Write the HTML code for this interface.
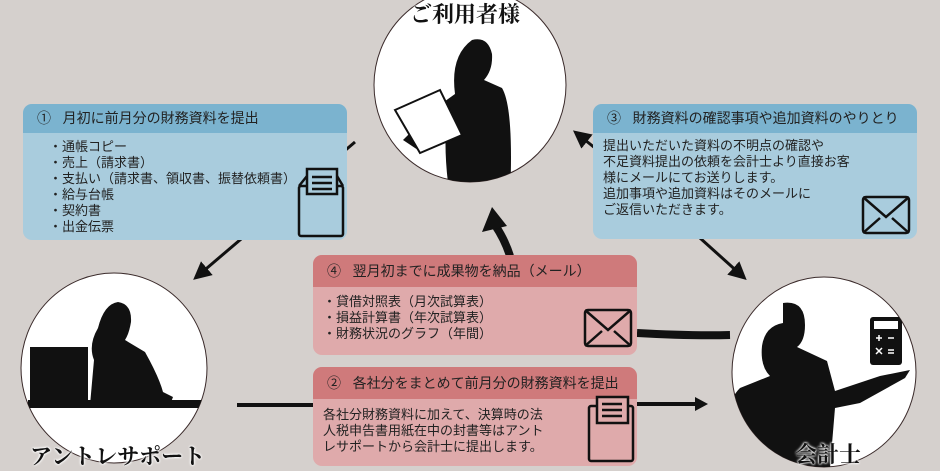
<!DOCTYPE html>
<html><head><meta charset="utf-8"><style>
body{margin:0;width:940px;height:470px;overflow:hidden;background:#d5d0cd;font-family:"Liberation Sans","Noto Sans CJK JP",sans-serif;position:relative}
.box{position:absolute;border-radius:9px;overflow:hidden;color:#222}
.hd{height:29px;line-height:29px;font-size:14px;padding-left:14px;white-space:nowrap}
.bd{font-size:13px;line-height:16px;white-space:nowrap}
.blue .hd{background:#7bb3cf}.blue{background:#a9ccdd}
.red .hd{background:#cf7a7b}.red{background:#dfaaab}
.lbl{position:absolute;font-family:"Noto Serif CJK SC","Liberation Serif",serif;font-weight:bold;font-size:22px;color:#111;text-shadow:0 0 2px #fff,0 0 2px #fff,0 0 3px #fff;white-space:nowrap}
svg{position:absolute;left:0;top:0}
</style></head><body>
<svg width="940" height="470">
<defs><marker id="a" markerWidth="6" markerHeight="6" refX="3" refY="3" orient="auto"><path d="M0,0L6,3L0,6z" fill="#111"/></marker>
<clipPath id="cl"><ellipse cx="114" cy="368" rx="93" ry="95"/></clipPath>
<clipPath id="cr"><ellipse cx="824" cy="372" rx="92" ry="95"/></clipPath>
<clipPath id="ct"><ellipse cx="470" cy="85" rx="96" ry="97"/></clipPath></defs>
<ellipse cx="470" cy="85" rx="96" ry="97" fill="#fff" stroke="#3a2a2a"/>
<ellipse cx="114" cy="368" rx="93" ry="95" fill="#fff" stroke="#3a2a2a"/>
<ellipse cx="824" cy="372" rx="92" ry="95" fill="#fff" stroke="#3a2a2a"/>
<!-- top silhouette -->
<g clip-path="url(#ct)">
<path d="M472,40 q16,-4 20,14 q1,16 -8,26 l18,8 q12,20 8,110 l-60,0 q-6,-40 -4,-70 l-28,22 l-15,-10 q20,-20 38,-36 l14,-10 q-5,-38 17,-54z" fill="#111"/>
<path d="M395,110 l45,-20 l22,45 l-42,18z" fill="#fff" stroke="#111" stroke-width="2"/>
</g>
<!-- left silhouette -->
<g clip-path="url(#cl)" fill="#111">
<path d="M118,302 q14,2 13,20 q-2,12 -6,18 l20,12 q14,25 18,40 l10,5 l-3,8 l-80,0 l4,-45 q-6,-15 4,-32 q6,-24 20,-26z"/>
<rect x="30" y="347" width="58" height="55"/>
<rect x="28" y="400" width="175" height="8"/>
</g>
<!-- right silhouette -->
<g clip-path="url(#cr)" fill="#111">
<path d="M783,303 q22,-3 22,22 q0,16 -8,22 l30,14 l8,30 l45,-15 l30,-6 l-5,8 l-45,25 l-25,5 l-5,60 l-110,0 q0,-60 20,-80 l30,-12 q-10,-10 -8,-30 q3,-20 21,-23z"/>
<rect x="870" y="317" width="32" height="48" rx="3"/>
<rect x="874" y="321" width="24" height="8" fill="#fff"/>
<path d="M876,338h6M879,335v6M888,338h6M888,350h6M888,353h6M876,348l6,6M882,348l-6,6" stroke="#fff" stroke-width="1.5"/>
</g>
<!-- connectors -->
<line x1="355" y1="142" x2="200" y2="274" stroke="#111" stroke-width="3" marker-end="url(#a)"/>
<line x1="700" y1="238" x2="740" y2="274" stroke="#111" stroke-width="3" marker-end="url(#a)"/>
<line x1="600" y1="152" x2="580" y2="136" stroke="#111" stroke-width="3" marker-end="url(#a)"/>
<path d="M510,256 Q505,240 495,225" stroke="#111" stroke-width="8" fill="none"/>
<path d="M482,232 L492,207 L507,226z" fill="#111"/>
<path d="M637,333 Q690,336 730,335" stroke="#111" stroke-width="8" fill="none"/>
<line x1="237" y1="405" x2="313" y2="405" stroke="#111" stroke-width="4"/>
<line x1="637" y1="404" x2="697" y2="404" stroke="#111" stroke-width="4"/>
<path d="M695,397 L708,404 L695,411z" fill="#111"/>
</svg>
<div class="lbl" style="left:410px;top:-2px">ご利用者様</div>
<div class="lbl" style="left:30px;top:440px">アントレサポート</div>
<div class="lbl" style="left:795px;top:438px">会計士</div>

<div class="box blue" style="left:23px;top:104px;width:324px;height:136px">
<div class="hd">①&nbsp;&nbsp;&nbsp;月初に前月分の財務資料を提出</div>
<div class="bd" style="padding:6px 0 0 26px">・通帳コピー<br>・売上（請求書）<br>・支払い（請求書、領収書、振替依頼書）<br>・給与台帳<br>・契約書<br>・出金伝票</div>
</div>
<div class="box blue" style="left:593px;top:104px;width:324px;height:135px">
<div class="hd">③&nbsp;&nbsp;&nbsp;財務資料の確認事項や追加資料のやりとり</div>
<div class="bd" style="padding:5px 0 0 10px">提出いただいた資料の不明点の確認や<br>不足資料提出の依頼を会計士より直接お客<br>様にメールにてお送りします。<br>追加事項や追加資料はそのメールに<br>ご返信いただきます。</div>
</div>
<div class="box red" style="left:313px;top:255px;width:324px;height:100px">
<div class="hd" style="height:32px;line-height:32px">④&nbsp;&nbsp;&nbsp;翌月初までに成果物を納品（メール）</div>
<div class="bd" style="padding:7px 0 0 10px">・貸借対照表（月次試算表）<br>・損益計算書（年次試算表）<br>・財務状況のグラフ（年間）</div>
</div>
<div class="box red" style="left:313px;top:367px;width:324px;height:99px">
<div class="hd" style="height:32px;line-height:32px">②&nbsp;&nbsp;&nbsp;各社分をまとめて前月分の財務資料を提出</div>
<div class="bd" style="padding:8px 0 0 10px">各社分財務資料に加えて、決算時の法<br>人税申告書用紙在中の封書等はアント<br>レサポートから会計士に提出します。</div>
</div>
<svg width="940" height="470" style="pointer-events:none">
<g fill="none" stroke="#111" stroke-width="2.5">
<rect x="299" y="186" width="44" height="50" rx="2"/><path d="M299,186 l8,-10 M343,186 l-6,-10"/><rect x="307" y="169" width="30" height="25" fill="#a9ccdd"/><path d="M312,177h20M312,183h20M312,189h20"/>
<rect x="863" y="197" width="46" height="36" rx="3"/><path d="M863,197l23,20l23,-20M863,233l17,-15M909,233l-17,-15"/>
<rect x="585" y="310" width="46" height="36" rx="3"/><path d="M585,310l23,20l23,-20M585,346l17,-15M631,346l-17,-15"/>
<rect x="589" y="406" width="44" height="55" rx="2"/><rect x="597" y="397" width="31" height="26" fill="#dfaaab"/><path d="M602,404h20M602,410h20M602,416h20"/>
</g></svg>
</body></html>
